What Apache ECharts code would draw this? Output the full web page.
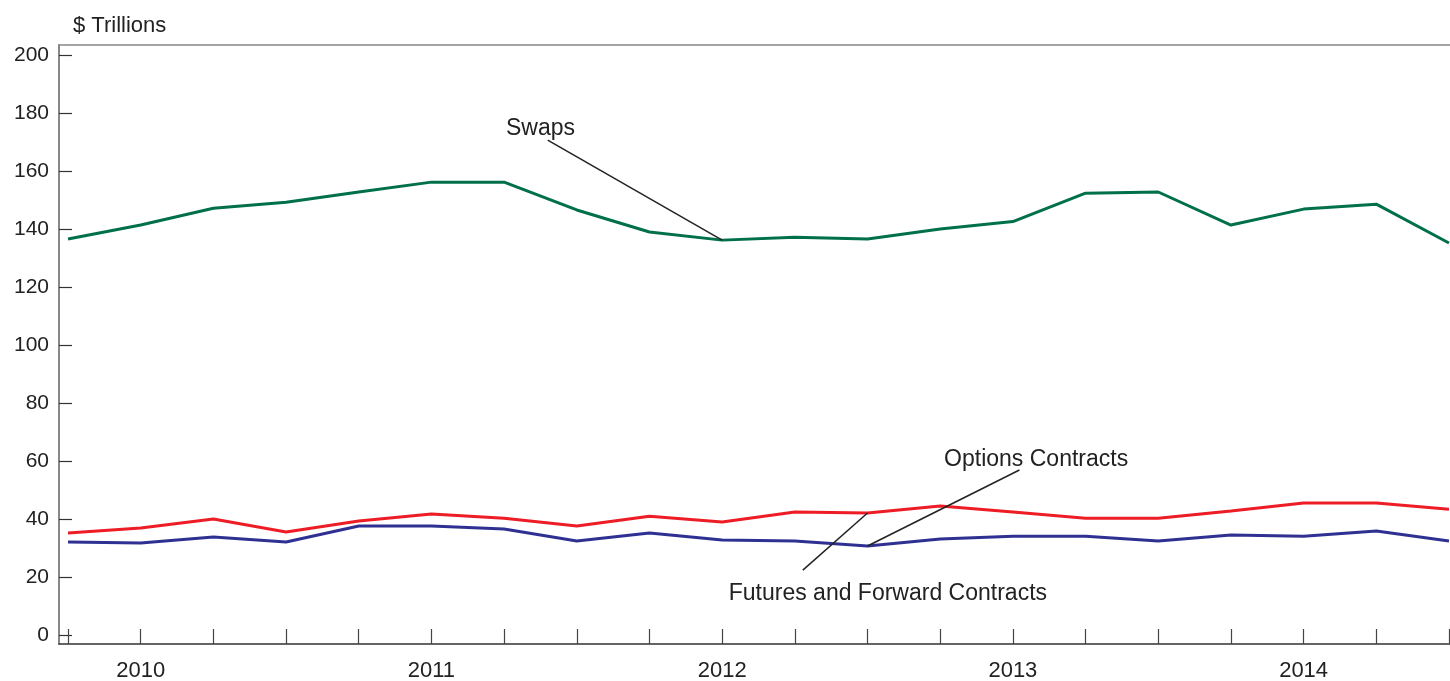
<!DOCTYPE html>
<html><head><meta charset="utf-8">
<script src="https://cdn.jsdelivr.net/npm/echarts@6/dist/echarts.min.js"></script>
<style>html,body{margin:0;padding:0;background:#fff}#c{width:1450px;height:681px}</style>
</head><body><div id="c"></div>
<script>
// Quarterly observations (index 0..19), year labels placed on index 1,5,9,13,17
const quarters = [0,1,2,3,4,5,6,7,8,9,10,11,12,13,14,15,16,17,18,19];
const yearTicks = [1,5,9,13,17];
const yearLabels = ['2010','2011','2012','2013','2014'];
const yTicks = [0,20,40,60,80,100,120,140,160,180,200];
const swaps = [136.6,141.4,147.2,149.3,152.8,156.2,156.2,146.6,139.0,136.2,137.2,136.6,140.0,142.6,152.4,152.8,141.4,146.9,148.6,135.2];
const options = [35.2,36.9,40.0,35.5,39.3,41.7,40.3,37.6,41.0,39.0,42.4,42.1,44.5,42.4,40.3,40.3,42.8,45.5,45.5,43.4];
const futures = [32.1,31.7,33.8,32.1,37.6,37.6,36.6,32.4,35.2,32.8,32.4,30.7,33.1,34.1,34.1,32.4,34.5,34.1,35.9,32.4];
const seriesNames = ['Swaps','Options Contracts','Futures and Forward Contracts'];
const unitLabel = '$ Trillions';
// annotation anchors in data space: [label x, label y] and leader [from, to]
const swapsNote = {text:'Swaps', at:[6.5,174.8], from:[6.6,170.7], to:[9,136.2]};
const optionsNote = {text:'Options Contracts', at:[13.32,60.5], from:[13.09,56.9], to:[11,30.7]};
const futuresNote = {text:'Futures and Forward Contracts', at:[11.28,14.4], from:[10.11,22.4], to:[11,42.1]};

const FONT = '"Liberation Sans", Arial, Helvetica, sans-serif';
const chart = echarts.init(document.getElementById('c'));
const pair = (a)=>a.map((v,i)=>[quarters[i],v]);
const notes = [swapsNote, optionsNote, futuresNote];
chart.setOption({
  animation:false,
  grid:{left:59,right:0,top:45,bottom:37,outerBoundsMode:'none',containLabel:false},
  xAxis:[{
    type:'value', min:-0.124, max:19.014,
    axisLine:{show:true,onZero:false,lineStyle:{color:'#333',width:1.5}},
    axisTick:{show:true,inside:true,length:15,customValues:quarters,lineStyle:{color:'#444',width:1.2}},
    axisLabel:{show:true,customValues:yearTicks,margin:16,fontFamily:FONT,fontSize:22,color:'#222',
      formatter:(v)=>{const i=yearTicks.indexOf(Math.round(v));return i>=0?yearLabels[i]:'';}},
    splitLine:{show:false}
  },{
    type:'value', position:'top', min:-0.124, max:19.014,
    axisLine:{show:true,onZero:false,lineStyle:{color:'#888',width:1.5}},
    axisTick:{show:false},axisLabel:{show:false},splitLine:{show:false}
  }],
  yAxis:{
    type:'value', min:-3.1, max:203.5,
    axisLine:{show:true,onZero:false,lineStyle:{color:'#888',width:2}},
    axisTick:{show:true,inside:true,length:13,customValues:yTicks,lineStyle:{color:'#333',width:1.2}},
    axisLabel:{show:true,customValues:yTicks,margin:10,fontFamily:FONT,fontSize:21,color:'#222'},
    splitLine:{show:false}
  },
  series:[
    {name:seriesNames[0],type:'line',data:pair(swaps),symbol:'none',lineStyle:{color:'#00704a',width:3},
      markLine:{silent:true,symbol:'none',label:{show:false},lineStyle:{color:'#222',width:1.5,type:'solid'},
        data:[[{coord:swapsNote.from},{coord:swapsNote.to}]]}},
    {name:seriesNames[1],type:'line',data:pair(options),symbol:'none',lineStyle:{color:'#ee1c25',width:3},
      markLine:{silent:true,symbol:'none',label:{show:false},lineStyle:{color:'#222',width:1.5,type:'solid'},
        data:[[{coord:optionsNote.from},{coord:optionsNote.to}],[{coord:futuresNote.from},{coord:futuresNote.to}]]}},
    {name:seriesNames[2],type:'line',data:pair(futures),symbol:'none',lineStyle:{color:'#2e3192',width:3}}
  ]
});
const g = [{type:'text',left:73,top:15,style:{text:unitLabel,font:'22px '+FONT,fill:'#222'}}];
notes.forEach(n=>{
  const p = chart.convertToPixel({xAxisIndex:0,yAxisIndex:0}, n.at);
  g.push({type:'text',x:p[0],y:p[1],style:{text:n.text,font:'23px '+FONT,fill:'#222',align:'center',verticalAlign:'middle'}});
});
chart.setOption({graphic:g});
</script></body></html>
